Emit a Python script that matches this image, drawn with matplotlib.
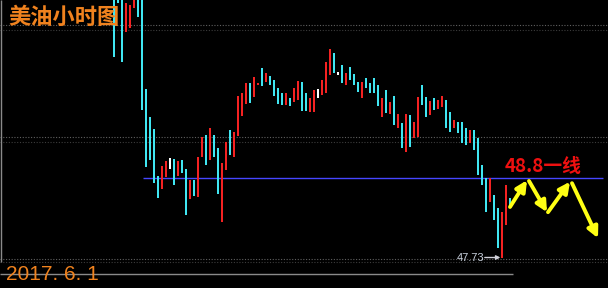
import matplotlib
matplotlib.use("Agg")
import matplotlib.pyplot as plt
import numpy as np

# ---------------- data (hourly WTI candles) ----------------
opens = [51.33, 51.46, 51.26, 50.76, 50.82, 51.09, 51.40, 51.26, 50.00, 49.62,
         49.46, 48.83, 48.65, 48.81, 49.00, 49.06, 48.83, 49.04, 48.92, 48.52,
         48.77, 48.54, 49.08, 49.38, 49.04, 49.38, 49.20, 48.21, 48.91, 49.45,
         49.08, 49.37, 49.63, 49.80, 50.08, 49.89, 50.05, 50.28, 50.09, 50.17,
         50.12, 50.01, 49.94, 49.78, 49.88, 49.82, 49.85, 50.09, 49.94, 49.69,
         49.69, 49.94, 49.92, 49.94, 50.19, 50.48, 50.205, 50.32, 50.05, 50.29,
         50.20, 50.09, 49.88, 50.15, 50.08, 50.15, 50.05, 49.62, 49.98, 49.66,
         49.90, 49.47, 49.54, 49.15, 49.65, 49.34, 49.35, 50.05, 49.89, 49.65,
         49.88, 49.73, 49.76, 49.85, 49.69, 49.47, 49.55, 49.55, 49.47, 49.27,
         49.45, 49.34, 48.97, 48.80, 48.48, 48.57, 48.40, 47.73, 48.17, 48.53]
closes = [50.43, 51.16, 50.36, 51.16, 51.13, 51.33, 50.97, 49.72, 48.95, 49.04,
          48.73, 48.53, 48.96, 49.03, 49.00, 48.71, 49.03, 48.87, 48.30, 48.77,
          48.56, 49.08, 49.35, 48.97, 49.47, 49.08, 48.58, 49.00, 49.28, 49.11,
          49.42, 49.90, 49.94, 50.08, 49.81, 50.16, 50.08, 50.04, 50.21, 50.05,
          49.90, 49.80, 49.78, 49.94, 49.77, 50.01, 50.11, 49.70, 49.70, 49.88,
          49.98, 49.94, 50.12, 50.36, 50.54, 50.21, 50.205, 50.08, 50.21, 50.12,
          50.05, 49.96, 50.09, 50.01, 49.94, 49.94, 49.77, 49.88, 49.67, 49.82,
          49.51, 49.66, 49.20, 49.66, 49.22, 49.55, 49.89, 49.78, 49.62, 49.84,
          49.72, 49.85, 49.90, 49.47, 49.42, 49.58, 49.41, 49.27, 49.24, 49.45,
          49.18, 48.84, 48.71, 48.34, 48.80, 48.23, 47.86, 48.34, 48.71, 48.41]
highs = [51.33, 51.46, 51.26, 51.16, 51.13, 51.33, 51.40, 51.26, 50.00, 49.62,
         49.46, 48.83, 48.96, 49.03, 49.07, 49.06, 49.03, 49.04, 48.92, 48.77,
         48.77, 49.08, 49.35, 49.38, 49.47, 49.38, 49.20, 49.00, 49.28, 49.45,
         49.42, 49.90, 49.94, 50.08, 50.08, 50.16, 50.08, 50.28, 50.21, 50.17,
         50.12, 50.01, 49.94, 49.94, 49.88, 50.01, 50.11, 50.09, 49.94, 49.88,
         49.98, 50.00, 50.12, 50.36, 50.54, 50.48, 50.22, 50.32, 50.21, 50.29,
         50.20, 50.09, 50.09, 50.15, 50.08, 50.15, 50.05, 49.88, 49.98, 49.82,
         49.90, 49.66, 49.54, 49.66, 49.65, 49.55, 49.89, 50.05, 49.89, 49.84,
         49.88, 49.85, 49.90, 49.85, 49.69, 49.58, 49.55, 49.55, 49.47, 49.45,
         49.45, 49.34, 48.97, 48.80, 48.80, 48.57, 48.40, 48.34, 48.71, 48.53]
lows = [50.43, 51.16, 50.36, 50.76, 50.82, 51.09, 50.97, 49.72, 48.95, 49.04,
        48.73, 48.53, 48.65, 48.81, 48.92, 48.71, 48.83, 48.87, 48.30, 48.52,
        48.56, 48.54, 49.08, 48.97, 49.04, 49.08, 48.58, 48.21, 48.91, 49.11,
        49.08, 49.37, 49.63, 49.80, 49.81, 49.89, 50.05, 50.04, 50.09, 50.05,
        49.90, 49.80, 49.78, 49.78, 49.77, 49.82, 49.85, 49.70, 49.70, 49.69,
        49.69, 49.88, 49.92, 49.94, 50.19, 50.21, 50.19, 50.08, 50.05, 50.12,
        50.05, 49.96, 49.88, 50.01, 49.94, 49.94, 49.77, 49.62, 49.67, 49.66,
        49.51, 49.47, 49.20, 49.15, 49.22, 49.34, 49.35, 49.78, 49.62, 49.65,
        49.72, 49.73, 49.76, 49.47, 49.42, 49.47, 49.41, 49.27, 49.24, 49.27,
        49.18, 48.84, 48.71, 48.34, 48.48, 48.23, 47.86, 47.73, 48.17, 48.41]

key_level = 48.8
key_label = "48.8一线"
low_label = "47.73"
title_text = "美油小时图"
date_text = "2017. 6. 1"
grid_levels = [50.86, 50.79, 49.35, 49.28, 47.71, 47.67]
# hand-drawn yellow projection arrows: (start_idx, start_price, end_idx, end_price)
guide_arrows = [(99.0, 48.41, 103.25, 48.77),
                (103.75, 48.76, 108.25, 48.34),
                (108.5, 48.34, 114.0, 48.75),
                (114.5, 48.73, 121.0, 47.99)]

# ---------------- figure ----------------
W, H = 608, 288
fig = plt.figure(figsize=(W / 100, H / 100), dpi=100, facecolor="black")
ax = fig.add_axes([0, 0, 1, 1])
ax.set_facecolor("black")
ax.set_xlim(-28.5, 123.5)
ax.set_ylim(47.3195, 51.1957)
ax.axis("off")

RED = "#f42222"
CYAN = "#40e6f2"
WHITE = "#ffffff"

# grid (dotted)
gcols = ["#606060", "#3c3c3c", "#606060", "#3c3c3c", "#606060", "#3c3c3c"]
for lvl, gc in zip(grid_levels, gcols):
    ax.axhline(lvl, color=gc, ls=(0, (1, 1.5)), lw=0.8, zorder=1)

# bottom solid rule and left frame line
ax.hlines(47.508, -28.5, 99.75, color="#8a8a8a", lw=1.0, zorder=1)
ax.vlines(-28.25, 47.67, 51.2, color="#8a8a8a", lw=1.0, zorder=1)

# key level line
ax.hlines(key_level, 7.25, 122.25, color="#4646ff", lw=1.0, zorder=2)

# candles
x = np.arange(len(opens))
cols = []
for o, c in zip(opens, closes):
    if c > o:
        cols.append(RED)
    elif c < o:
        cols.append(CYAN)
    else:
        cols.append(WHITE)
ax.vlines(x, lows, highs, colors=cols, linewidth=1.44, zorder=3)

# low marker
imin = int(np.argmin(lows))
ax.annotate("", xy=(imin - 0.4, lows[imin]), xytext=(imin - 4.3, lows[imin]),
            arrowprops=dict(arrowstyle="-|>", color="#d0d0d8", lw=1.0,
                            mutation_scale=6, shrinkA=0, shrinkB=0), zorder=4)
ax.text(imin - 4.5, lows[imin], low_label, color="#c8d0dc", fontsize=8,
        family=["Liberation Sans", "DejaVu Sans"], ha="right", va="center", zorder=4)

# key label
ax.text(97.75, key_level + 0.16, key_label, color="#ee1010", fontsize=13.5,
        fontweight="bold",
        family=["Noto Sans CJK SC", "DejaVu Sans"], ha="left", va="center", zorder=4)

# yellow arrows
for x0, y0, x1, y1 in guide_arrows:
    ax.annotate("", xy=(x1, y1), xytext=(x0, y0),
                arrowprops=dict(arrowstyle="-|>", color="#ffff14", lw=2.8,
                                mutation_scale=16, shrinkA=0, shrinkB=0), zorder=5)

# title and date
fig.text(8 / W, 1 - 17.5 / H, title_text, color="#f0821e", fontsize=16,
         fontweight="bold",
         family=["Noto Sans CJK SC", "DejaVu Sans"], ha="left", va="center")
fig.text(6 / W, 1 - 274 / H, date_text, color="#f0821e", fontsize=15,
         family=["Liberation Sans", "DejaVu Sans"], ha="left", va="center")

fig.savefig("out.png", dpi=100, facecolor="black")
